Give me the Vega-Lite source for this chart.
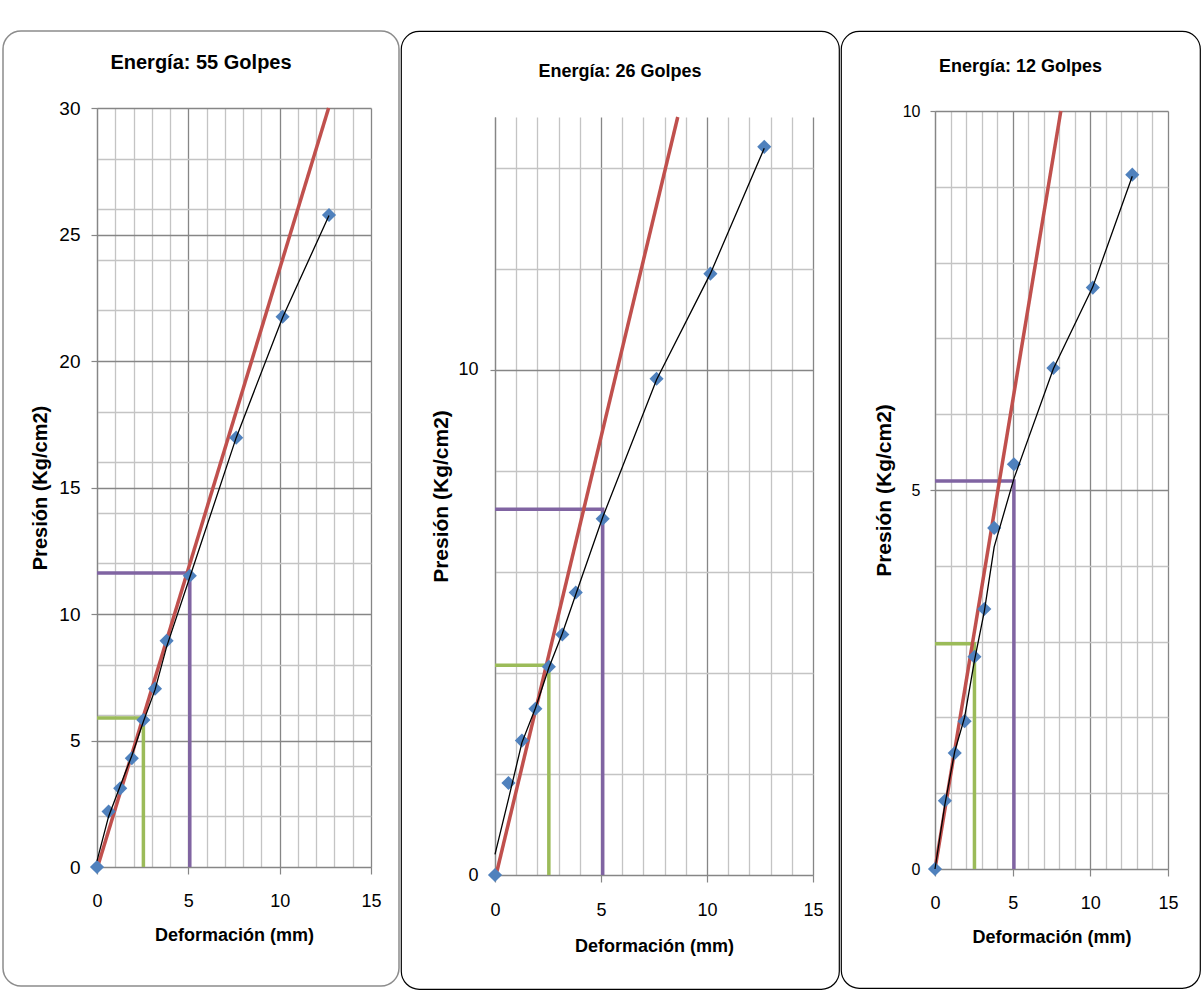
{
  "$schema": "https://vega.github.io/schema/vega-lite/v6.json",
  "padding": {"left": 2, "top": 30, "right": 0, "bottom": 0},
  "background": "white",
  "spacing": 2,
  "bounds": "flush",
  "resolve": {"scale": {"x": "independent", "y": "independent"}},
  "data": {"values": [
    {"p": "55", "s": "punto", "o": 1, "x": 0, "y": 0},
    {"p": "55", "s": "punto", "o": 2, "x": 0.635, "y": 2.19},
    {"p": "55", "s": "punto", "o": 3, "x": 1.27, "y": 3.11},
    {"p": "55", "s": "punto", "o": 4, "x": 1.905, "y": 4.3},
    {"p": "55", "s": "punto", "o": 5, "x": 2.54, "y": 5.81},
    {"p": "55", "s": "punto", "o": 6, "x": 3.175, "y": 7.05},
    {"p": "55", "s": "punto", "o": 7, "x": 3.81, "y": 8.94},
    {"p": "55", "s": "punto", "o": 8, "x": 5.08, "y": 11.51},
    {"p": "55", "s": "punto", "o": 9, "x": 7.62, "y": 16.97},
    {"p": "55", "s": "punto", "o": 10, "x": 10.16, "y": 21.75},
    {"p": "55", "s": "punto", "o": 11, "x": 12.7, "y": 25.77},
    {"p": "55", "s": "curva", "o": 1, "x": 0, "y": 0.24},
    {"p": "55", "s": "curva", "o": 2, "x": 0.635, "y": 2.0},
    {"p": "55", "s": "curva", "o": 3, "x": 1.27, "y": 3.2},
    {"p": "55", "s": "curva", "o": 4, "x": 1.905, "y": 4.4},
    {"p": "55", "s": "curva", "o": 5, "x": 2.54, "y": 5.75},
    {"p": "55", "s": "curva", "o": 6, "x": 3.175, "y": 7.0},
    {"p": "55", "s": "curva", "o": 7, "x": 3.81, "y": 8.7},
    {"p": "55", "s": "curva", "o": 8, "x": 5.08, "y": 11.45},
    {"p": "55", "s": "curva", "o": 9, "x": 7.62, "y": 16.97},
    {"p": "55", "s": "curva", "o": 10, "x": 10.16, "y": 21.72},
    {"p": "55", "s": "curva", "o": 11, "x": 12.7, "y": 25.75},
    {"p": "55", "s": "tangente", "o": 1, "x": 0.03, "y": 0},
    {"p": "55", "s": "tangente", "o": 2, "x": 12.68, "y": 30},
    {"p": "55", "s": "verde", "o": 1, "x": 0, "y": 5.89},
    {"p": "55", "s": "verde", "o": 2, "x": 2.54, "y": 5.89},
    {"p": "55", "s": "verde", "o": 3, "x": 2.54, "y": 0},
    {"p": "55", "s": "morado", "o": 1, "x": 0, "y": 11.62},
    {"p": "55", "s": "morado", "o": 2, "x": 5.08, "y": 11.62},
    {"p": "55", "s": "morado", "o": 3, "x": 5.08, "y": 0},

    {"p": "26", "s": "punto", "o": 1, "x": 0, "y": 0},
    {"p": "26", "s": "punto", "o": 2, "x": 0.635, "y": 1.82},
    {"p": "26", "s": "punto", "o": 3, "x": 1.27, "y": 2.66},
    {"p": "26", "s": "punto", "o": 4, "x": 1.905, "y": 3.29},
    {"p": "26", "s": "punto", "o": 5, "x": 2.54, "y": 4.12},
    {"p": "26", "s": "punto", "o": 6, "x": 3.175, "y": 4.76},
    {"p": "26", "s": "punto", "o": 7, "x": 3.81, "y": 5.59},
    {"p": "26", "s": "punto", "o": 8, "x": 5.08, "y": 7.05},
    {"p": "26", "s": "punto", "o": 9, "x": 7.62, "y": 9.82},
    {"p": "26", "s": "punto", "o": 10, "x": 10.16, "y": 11.9},
    {"p": "26", "s": "punto", "o": 11, "x": 12.7, "y": 14.41},
    {"p": "26", "s": "curva", "o": 1, "x": 0, "y": 0.41},
    {"p": "26", "s": "curva", "o": 2, "x": 0.635, "y": 1.5},
    {"p": "26", "s": "curva", "o": 3, "x": 1.27, "y": 2.62},
    {"p": "26", "s": "curva", "o": 4, "x": 1.905, "y": 3.3},
    {"p": "26", "s": "curva", "o": 5, "x": 2.54, "y": 4.1},
    {"p": "26", "s": "curva", "o": 6, "x": 3.175, "y": 4.78},
    {"p": "26", "s": "curva", "o": 7, "x": 3.81, "y": 5.55},
    {"p": "26", "s": "curva", "o": 8, "x": 5.08, "y": 7.08},
    {"p": "26", "s": "curva", "o": 9, "x": 7.62, "y": 9.8},
    {"p": "26", "s": "curva", "o": 10, "x": 10.16, "y": 11.9},
    {"p": "26", "s": "curva", "o": 11, "x": 12.7, "y": 14.38},
    {"p": "26", "s": "tangente", "o": 1, "x": 0.05, "y": 0},
    {"p": "26", "s": "tangente", "o": 2, "x": 8.62, "y": 15},
    {"p": "26", "s": "verde", "o": 1, "x": 0, "y": 4.15},
    {"p": "26", "s": "verde", "o": 2, "x": 2.54, "y": 4.15},
    {"p": "26", "s": "verde", "o": 3, "x": 2.54, "y": 0},
    {"p": "26", "s": "morado", "o": 1, "x": 0, "y": 7.24},
    {"p": "26", "s": "morado", "o": 2, "x": 5.08, "y": 7.24},
    {"p": "26", "s": "morado", "o": 3, "x": 5.08, "y": 0},

    {"p": "12", "s": "punto", "o": 1, "x": 0, "y": 0},
    {"p": "12", "s": "punto", "o": 2, "x": 0.635, "y": 0.9},
    {"p": "12", "s": "punto", "o": 3, "x": 1.27, "y": 1.53},
    {"p": "12", "s": "punto", "o": 4, "x": 1.905, "y": 1.95},
    {"p": "12", "s": "punto", "o": 5, "x": 2.54, "y": 2.8},
    {"p": "12", "s": "punto", "o": 6, "x": 3.175, "y": 3.43},
    {"p": "12", "s": "punto", "o": 7, "x": 3.81, "y": 4.5},
    {"p": "12", "s": "punto", "o": 8, "x": 5.08, "y": 5.34},
    {"p": "12", "s": "punto", "o": 9, "x": 7.62, "y": 6.61},
    {"p": "12", "s": "punto", "o": 10, "x": 10.16, "y": 7.67},
    {"p": "12", "s": "punto", "o": 11, "x": 12.7, "y": 9.16},
    {"p": "12", "s": "curva", "o": 1, "x": 0, "y": 0},
    {"p": "12", "s": "curva", "o": 2, "x": 0.635, "y": 0.85},
    {"p": "12", "s": "curva", "o": 3, "x": 1.27, "y": 1.55},
    {"p": "12", "s": "curva", "o": 4, "x": 1.905, "y": 2.0},
    {"p": "12", "s": "curva", "o": 5, "x": 2.54, "y": 2.75},
    {"p": "12", "s": "curva", "o": 6, "x": 3.175, "y": 3.4},
    {"p": "12", "s": "curva", "o": 7, "x": 3.81, "y": 4.25},
    {"p": "12", "s": "curva", "o": 8, "x": 5.08, "y": 5.15},
    {"p": "12", "s": "curva", "o": 9, "x": 7.62, "y": 6.6},
    {"p": "12", "s": "curva", "o": 10, "x": 10.16, "y": 7.68},
    {"p": "12", "s": "curva", "o": 11, "x": 12.7, "y": 9.14},
    {"p": "12", "s": "tangente", "o": 1, "x": 0, "y": 0},
    {"p": "12", "s": "tangente", "o": 2, "x": 8.1, "y": 10},
    {"p": "12", "s": "verde", "o": 1, "x": 0, "y": 2.97},
    {"p": "12", "s": "verde", "o": 2, "x": 2.54, "y": 2.97},
    {"p": "12", "s": "verde", "o": 3, "x": 2.54, "y": 0},
    {"p": "12", "s": "morado", "o": 1, "x": 0, "y": 5.12},
    {"p": "12", "s": "morado", "o": 2, "x": 5.08, "y": 5.12},
    {"p": "12", "s": "morado", "o": 3, "x": 5.08, "y": 0}
  ]},
  "config": {
    "font": "Liberation Sans",
    "axis": {
      "domainColor": "#868686", "domainWidth": 1.2,
      "tickColor": "#868686", "tickWidth": 1.2,
      "labelFont": "Liberation Sans", "labelColor": "#000000",
      "titleFont": "Liberation Sans", "titleFontWeight": "bold", "titleColor": "#000000",
      "gridWidth": 1.3, "labelFlush": false, "labelOverlap": false
    },
    "title": {"font": "Liberation Sans", "fontWeight": "bold", "color": "#000000"}
  },
  "hconcat": [
    {
      "width": 396, "height": 955,
      "view": {"stroke": "#8c8c8c", "strokeWidth": 1.5, "cornerRadius": 18, "fill": "white"},
      "title": {"text": "Energía: 55 Golpes", "fontSize": 20, "offset": -52, "baseline": "middle", "frame": "group", "anchor": "middle"},
      "transform": [{"filter": "datum.p === '55'"}],
      "resolve": {"axis": {"x": "independent"}},
      "encoding": {
        "y": {"field": "y", "type": "quantitative",
          "scale": {"domain": [0, 30], "range": [836, 77], "nice": false},
          "axis": {"title": "Presión (Kg/cm2)", "offset": -94,
            "values": [0,2,4,5,6,8,10,12,14,15,16,18,20,22,24,25,26,28,30],
            "labelExpr": "datum.value % 5 === 0 ? datum.label : ''",
            "gridColor": {"condition": {"test": "datum.value % 5 === 0", "value": "#868686"}, "value": "#c4c4c4"},
            "tickOpacity": {"condition": {"test": "datum.value % 5 === 0", "value": 1}, "value": 0},
            "tickSize": 6, "labelPadding": 11, "labelFontSize": 19, "titleFontSize": 20, "titlePadding": 8}},
        "color": {"field": "s", "type": "nominal", "legend": null,
          "scale": {"domain": ["punto", "curva", "tangente", "verde", "morado"], "range": ["#4F81BD", "#000000", "#C0504D", "#9BBB59", "#8064A2"]}}
      },
      "layer": [
        {"transform": [{"filter": "datum.s === 'verde' || datum.s === 'morado'"}],
         "mark": {"type": "line", "strokeWidth": 3.5, "strokeCap": "butt"},
         "encoding": {
           "x": {"field": "x", "type": "quantitative",
             "scale": {"domain": [0, 15], "range": [94, 368], "nice": false, "zero": false},
             "axis": {"orient": "top", "offset": 0, "title": null, "labels": false, "ticks": false, "domain": false, "grid": true,
               "values": [0,1,2,3,4,5,6,7,8,9,10,11,12,13,14,15],
               "gridColor": {"condition": {"test": "datum.value % 5 === 0", "value": "#868686"}, "value": "#c4c4c4"}}},
           "order": {"field": "o", "type": "quantitative"}}},
        {"encoding": {
           "x": {"field": "x", "type": "quantitative",
             "scale": {"domain": [0, 15], "range": [94, 368], "nice": false, "zero": false},
             "axis": {"orient": "bottom", "title": "Deformación (mm)", "offset": -119, "grid": false,
               "values": [0,5,10,15],
               "tickSize": 7, "labelPadding": 18, "labelFontSize": 18, "titleFontSize": 18, "titlePadding": 16}}},
         "layer": [
          {"transform": [{"filter": "datum.s === 'tangente'"}], "mark": {"type": "line", "strokeWidth": 3.5}, "encoding": {"order": {"field": "o", "type": "quantitative"}}},
          {"transform": [{"filter": "datum.s === 'punto'"}], "mark": {"type": "point", "shape": "diamond", "size": 200, "filled": true, "opacity": 1}},
          {"transform": [{"filter": "datum.s === 'curva'"}], "mark": {"type": "line", "strokeWidth": 1.3}, "encoding": {"order": {"field": "o", "type": "quantitative"}}}
         ]}
      ]
    },
    {
      "width": 438, "height": 958,
      "view": {"stroke": "#000000", "strokeWidth": 1.2, "cornerRadius": 18, "fill": "white"},
      "title": {"text": "Energía: 26 Golpes", "fontSize": 18, "offset": -59, "baseline": "middle", "frame": "group", "anchor": "middle"},
      "transform": [{"filter": "datum.p === '26'"}],
      "resolve": {"axis": {"x": "independent"}},
      "encoding": {
        "y": {"field": "y", "type": "quantitative",
          "scale": {"domain": [0, 15], "range": [844, 86], "nice": false},
          "axis": {"title": "Presión (Kg/cm2)", "offset": -94,
            "values": [0,2,4,6,8,10,12,14],
            "labelExpr": "datum.value % 10 === 0 ? datum.label : ''",
            "gridColor": {"condition": {"test": "datum.value % 10 === 0", "value": "#868686"}, "value": "#c4c4c4"},
            "tickOpacity": {"condition": {"test": "datum.value % 10 === 0", "value": 1}, "value": 0},
            "tickSize": 5, "labelPadding": 12, "labelFontSize": 18, "titleFontSize": 21, "titlePadding": 6}},
        "color": {"field": "s", "type": "nominal", "legend": null,
          "scale": {"domain": ["punto", "curva", "tangente", "verde", "morado"], "range": ["#4F81BD", "#000000", "#C0504D", "#9BBB59", "#8064A2"]}}
      },
      "layer": [
        {"transform": [{"filter": "datum.s === 'verde' || datum.s === 'morado'"}],
         "mark": {"type": "line", "strokeWidth": 3.5, "strokeCap": "butt"},
         "encoding": {
           "x": {"field": "x", "type": "quantitative",
             "scale": {"domain": [0, 15], "range": [94, 412], "nice": false, "zero": false},
             "axis": {"orient": "top", "offset": 0, "title": null, "labels": false, "ticks": false, "domain": false, "grid": true,
               "values": [0,1,2,3,4,5,6,7,8,9,10,11,12,13,14,15],
               "gridColor": {"condition": {"test": "datum.value % 5 === 0", "value": "#868686"}, "value": "#c4c4c4"}}},
           "order": {"field": "o", "type": "quantitative"}}},
        {"encoding": {
           "x": {"field": "x", "type": "quantitative",
             "scale": {"domain": [0, 15], "range": [94, 412], "nice": false, "zero": false},
             "axis": {"orient": "bottom", "title": "Deformación (mm)", "offset": -114, "grid": false,
               "values": [0,5,10,15],
               "tickSize": 7, "labelPadding": 19, "labelFontSize": 18, "titleFontSize": 18, "titlePadding": 18}}},
         "layer": [
          {"transform": [{"filter": "datum.s === 'tangente'"}], "mark": {"type": "line", "strokeWidth": 3.5}, "encoding": {"order": {"field": "o", "type": "quantitative"}}},
          {"transform": [{"filter": "datum.s === 'punto'"}], "mark": {"type": "point", "shape": "diamond", "size": 200, "filled": true, "opacity": 1}},
          {"transform": [{"filter": "datum.s === 'curva'"}], "mark": {"type": "line", "strokeWidth": 1.3}, "encoding": {"order": {"field": "o", "type": "quantitative"}}}
         ]}
      ]
    },
    {
      "width": 359, "height": 957,
      "view": {"stroke": "#000000", "strokeWidth": 1.2, "cornerRadius": 18, "fill": "white"},
      "title": {"text": "Energía: 12 Golpes", "fontSize": 18, "offset": -54, "baseline": "middle", "frame": "group", "anchor": "middle"},
      "transform": [{"filter": "datum.p === '12'"}],
      "resolve": {"axis": {"x": "independent"}},
      "encoding": {
        "y": {"field": "y", "type": "quantitative",
          "scale": {"domain": [0, 10], "range": [838, 80], "nice": false},
          "axis": {"title": "Presión (Kg/cm2)", "offset": -94,
            "values": [0,1,2,3,4,5,6,7,8,9,10],
            "labelExpr": "datum.value % 5 === 0 ? datum.label : ''",
            "gridColor": {"condition": {"test": "datum.value % 5 === 0", "value": "#868686"}, "value": "#c4c4c4"},
            "tickOpacity": {"condition": {"test": "datum.value % 5 === 0", "value": 1}, "value": 0},
            "tickSize": 5, "labelPadding": 10, "labelFontSize": 16, "titleFontSize": 21, "titlePadding": 8}},
        "color": {"field": "s", "type": "nominal", "legend": null,
          "scale": {"domain": ["punto", "curva", "tangente", "verde", "morado"], "range": ["#4F81BD", "#000000", "#C0504D", "#9BBB59", "#8064A2"]}}
      },
      "layer": [
        {"transform": [{"filter": "datum.s === 'verde' || datum.s === 'morado'"}],
         "mark": {"type": "line", "strokeWidth": 3.5, "strokeCap": "butt"},
         "encoding": {
           "x": {"field": "x", "type": "quantitative",
             "scale": {"domain": [0, 15], "range": [94, 327], "nice": false, "zero": false},
             "axis": {"orient": "top", "offset": 0, "title": null, "labels": false, "ticks": false, "domain": false, "grid": true,
               "values": [0,1,2,3,4,5,6,7,8,9,10,11,12,13,14,15],
               "gridColor": {"condition": {"test": "datum.value % 5 === 0", "value": "#868686"}, "value": "#c4c4c4"}}},
           "order": {"field": "o", "type": "quantitative"}}},
        {"encoding": {
           "x": {"field": "x", "type": "quantitative",
             "scale": {"domain": [0, 15], "range": [94, 327], "nice": false, "zero": false},
             "axis": {"orient": "bottom", "title": "Deformación (mm)", "offset": -119, "grid": false,
               "values": [0,5,10,15],
               "tickSize": 7, "labelPadding": 18, "labelFontSize": 18, "titleFontSize": 18, "titlePadding": 16}}},
         "layer": [
          {"transform": [{"filter": "datum.s === 'tangente'"}], "mark": {"type": "line", "strokeWidth": 3.5}, "encoding": {"order": {"field": "o", "type": "quantitative"}}},
          {"transform": [{"filter": "datum.s === 'punto'"}], "mark": {"type": "point", "shape": "diamond", "size": 200, "filled": true, "opacity": 1}},
          {"transform": [{"filter": "datum.s === 'curva'"}], "mark": {"type": "line", "strokeWidth": 1.3}, "encoding": {"order": {"field": "o", "type": "quantitative"}}}
         ]}
      ]
    }
  ]
}
